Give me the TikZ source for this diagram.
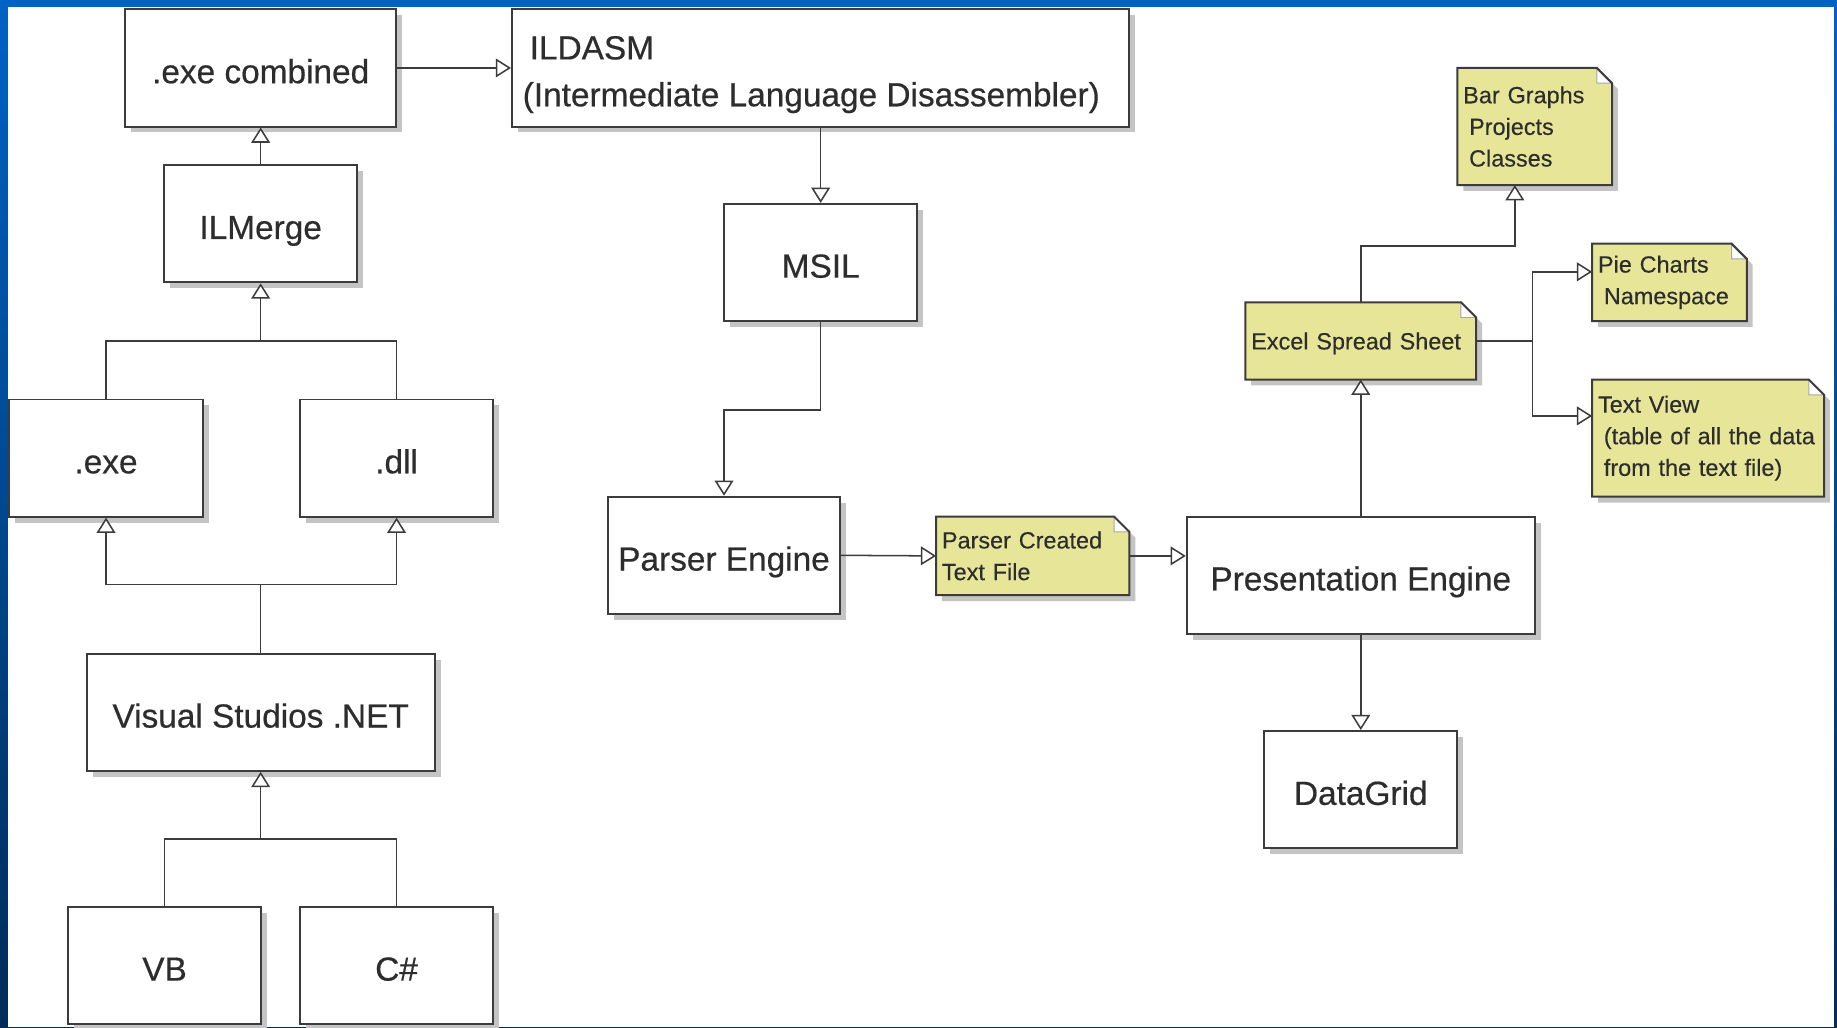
\documentclass[tikz,border=0pt]{standalone}
\usepackage{fontspec}
\setmainfont{Liberation Sans}
\newfontfamily\heavyfont{Liberation Sans}[FakeBold=0.5]
\newfontfamily\notefont{Liberation Sans}[FakeBold=0.25]
\usetikzlibrary{arrows.meta,shadows}
\definecolor{linec}{RGB}{60,60,60}
\definecolor{textc}{RGB}{45,45,45}
\definecolor{shadowc}{RGB}{196,196,196}
\definecolor{notefill}{RGB}{230,229,152}
\definecolor{bluetop}{RGB}{0,98,196}
\definecolor{bluebot}{RGB}{0,44,88}
\pgfdeclarelayer{bgzero}
\pgfdeclarelayer{notelayer}
\pgfsetlayers{bgzero,notelayer,main}
\newcommand\bigtxt{\heavyfont\fontsize{28.5}{40}\selectfont}
\newcommand\smalltxt{\notefont\fontsize{20}{27}\selectfont}
\newcommand\notedraw[1]{%
  \fill[shadowc] ([shift={(5pt,-5pt)}]#1.north west) -- ([shift={(-8pt,-5pt)}]#1.north east) -- ([shift={(5pt,-18pt)}]#1.north east) -- ([shift={(5pt,-5pt)}]#1.south east) -- ([shift={(5pt,-5pt)}]#1.south west) -- cycle;
  \fill[notefill] (#1.north west) -- ([xshift=-13pt]#1.north east) -- ([yshift=-13pt]#1.north east) -- (#1.south east) -- (#1.south west) -- cycle;
  \draw[fill=white, draw=gray!70, line width=0.8pt] ([xshift=-13pt]#1.north east) -- ([xshift=-13pt,yshift=-13pt]#1.north east) -- ([yshift=-13pt]#1.north east) -- cycle;
  \draw[draw=linec, line width=1.7pt, line join=miter] (#1.north west) -- ([xshift=-13pt]#1.north east) -- ([yshift=-13pt]#1.north east) -- (#1.south east) -- (#1.south west) -- cycle;
}
\begin{document}
\begin{tikzpicture}[x=1pt,y=-1pt,
  box/.style={draw=linec, line width=1.7pt, fill=white, inner sep=0pt, minimum height=100pt, text=textc, font=\bigtxt,
    text height=26pt, text depth=0pt,
    drop shadow={shadow xshift=5pt, shadow yshift=-5pt, fill=shadowc, opacity=1}},
  notebox/.style={draw=none, fill=none, inner xsep=5pt, inner ysep=0pt, outer sep=0pt, align=left, text=textc, font=\smalltxt},
  con/.style={draw=linec, line width=1.3pt},
  arr/.style={draw=linec, line width=1.3pt, -{Triangle[length=13pt, width=16pt, fill=white]}}]
\useasboundingbox (0,0) rectangle (1568,877);
\begin{pgfonlayer}{bgzero}
  \shade[top color=bluetop, bottom color=bluebot] (0,0) rectangle (1568,877);
  \fill[white] (7,6) rectangle (1565,877);
\end{pgfonlayer}

% boxes
\node[box, minimum width=231pt] (exec) at (222.5,58) {.exe combined};
\node[box, minimum width=527pt, align=left, text height=65.4pt, text depth=0pt] (ildasm) at (700.5,58) {\hspace*{6pt}ILDASM\\(Intermediate Language Disassembler)\hspace*{16pt}};
\node[box, minimum width=165pt] (ilmerge) at (222.5,191) {ILMerge};
\node[box, minimum width=165pt] (exe) at (90.5,391) {.exe};
\node[box, minimum width=165pt] (dll) at (338.5,391) {.dll};
\node[box, minimum width=297pt] (vs) at (222.5,608) {Visual Studios .NET};
\node[box, minimum width=165pt] (vb) at (140.5,824) {VB};
\node[box, minimum width=165pt] (cs) at (338.5,824) {C\#};
\node[box, minimum width=165pt] (msil) at (700.5,224) {MSIL};
\node[box, minimum width=198pt] (parser) at (618,474) {Parser Engine};
\node[box, minimum width=297pt] (pres) at (1161.5,491) {Presentation Engine};
\node[box, minimum width=165pt] (datagrid) at (1161.5,674) {DataGrid};

% notes
\node[notebox, text width=155pt, minimum height=67pt] (pnote) at (881.5,474.5) {Parser Created\\Text File};
\node[notebox, text width=187pt, minimum height=66pt, text depth=0pt] (excel) at (1161.5,291) {Excel Spread Sheet};
\node[notebox, text width=122pt, minimum height=100pt] (bar) at (1310,108) {Bar Graphs\\\hspace*{5pt}Projects\\\hspace*{5pt}Classes};
\node[notebox, text width=122pt, minimum height=66pt] (pie) at (1425,241) {Pie Charts\\\hspace*{5pt}Namespace};
\node[notebox, text width=188pt, minimum height=100pt] (tview) at (1458,374) {Text View\\\hspace*{5pt}(table of all the data\\\hspace*{5pt}from the text file)};

\begin{pgfonlayer}{notelayer}
  \notedraw{pnote}
  \notedraw{excel}
  \notedraw{bar}
  \notedraw{pie}
  \notedraw{tview}
\end{pgfonlayer}

% connectors
\draw[arr] (exec.east) -- (ildasm.west);
\draw[arr] (ilmerge.north) -- (exec.south);
\coordinate (j1) at (222.5,291);
\draw[con] (exe.north) |- (j1) -| (dll.north);
\draw[arr] (j1) -- (ilmerge.south);
\coordinate (j2) at (222.5,499);
\draw[con] (vs.north) -- (j2);
\draw[arr] (j2) -| (exe.south);
\draw[arr] (j2) -| (dll.south);
\coordinate (j3) at (222.5,716);
\draw[con] (vb.north) |- (j3) -| (cs.north);
\draw[arr] (j3) -- (vs.south);
\draw[arr] (ildasm.south) -- (msil.north);
\draw[arr] (msil.south) -- ++(0,75) -| (parser.north);
\draw[arr] (parser.east) -- (pnote.west);
\draw[arr] (pnote.east) -- (pnote.east -| pres.west);
\draw[arr] (pres.south) -- (datagrid.north);
\draw[arr] (pres.north) -- (excel.south);
\coordinate (j5) at (1293,210);
\draw[arr] (excel.north) |- (j5) -- (j5 |- bar.south);
\coordinate (j6) at (1308,291);
\draw[con] (excel.east) -- (j6);
\draw[arr] (j6) |- ([yshift=9pt]pie.west);
\draw[arr] (j6) |- ([yshift=19pt]tview.west);
\end{tikzpicture}
\end{document}
